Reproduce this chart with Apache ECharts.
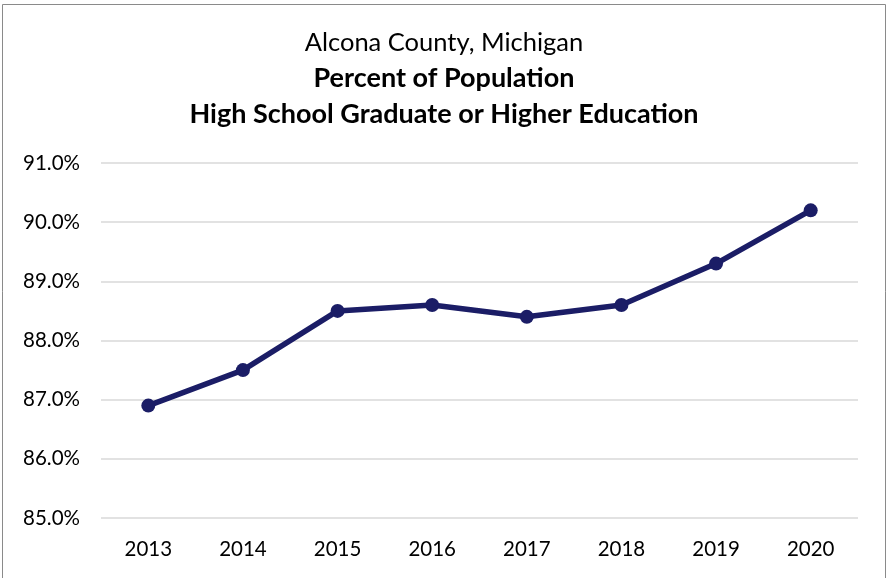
<!DOCTYPE html>
<html>
<head>
<meta charset="utf-8">
<script src="https://cdn.jsdelivr.net/npm/echarts@6/dist/echarts.min.js"></script>
<style>
  html, body { margin: 0; padding: 0; background: #fff; }
  #chart { width: 888px; height: 578px; }
</style>
</head>
<body>
<div id="chart"></div>
<script>
const years = ['2013', '2014', '2015', '2016', '2017', '2018', '2019', '2020'];
const pctValues = [86.9, 87.5, 88.5, 88.6, 88.4, 88.6, 89.3, 90.2];
const titleLines = ['Alcona County, Michigan', 'Percent of Population', 'High School Graduate or Higher Education'];

const FONT = 'Lato, "Open Sans", sans-serif';
const NAVY = '#1b1d66';

const chart = echarts.init(document.getElementById('chart'), null, {renderer: 'canvas'});

chart.setOption({
  backgroundColor: '#fff',
  animation: false,
  title: titleLines.map((t, i) => ({
    text: t,
    left: 'center',
    top: i === 0 ? 25 : 24 + i * 36,
    textStyle: {
      fontFamily: FONT,
      fontSize: i === 0 ? 25.5 : 27,
      fontWeight: i === 0 ? 'normal' : 'bold',
      color: '#000'
    }
  })),
  graphic: [{
    type: 'rect',
    shape: {x: 2.5, y: 4.5, width: 883, height: 580},
    style: {fill: 'none', stroke: '#8a8a8a', lineWidth: 1},
    silent: true
  }],
  grid: {left: 101, right: 30, top: 163, bottom: 60, containLabel: false},
  xAxis: {
    type: 'category',
    data: years,
    boundaryGap: true,
    axisLine: {show: false},
    axisTick: {show: false},
    axisLabel: {fontFamily: FONT, fontSize: 20.5, color: '#000', margin: 21}
  },
  yAxis: {
    type: 'value',
    min: 85,
    max: 91,
    interval: 1,
    axisLine: {show: false},
    axisTick: {show: false},
    axisLabel: {
      fontFamily: FONT, fontSize: 20.5, color: '#000', margin: 21,
      formatter: v => v.toFixed(1) + '%'
    },
    splitLine: {lineStyle: {color: '#d9d9d9', width: 1.5}}
  },
  series: [{
    type: 'line',
    data: pctValues,
    symbol: 'circle',
    symbolSize: 14,
    lineStyle: {color: NAVY, width: 5.5},
    itemStyle: {color: NAVY}
  }]
});
</script>
</body>
</html>
